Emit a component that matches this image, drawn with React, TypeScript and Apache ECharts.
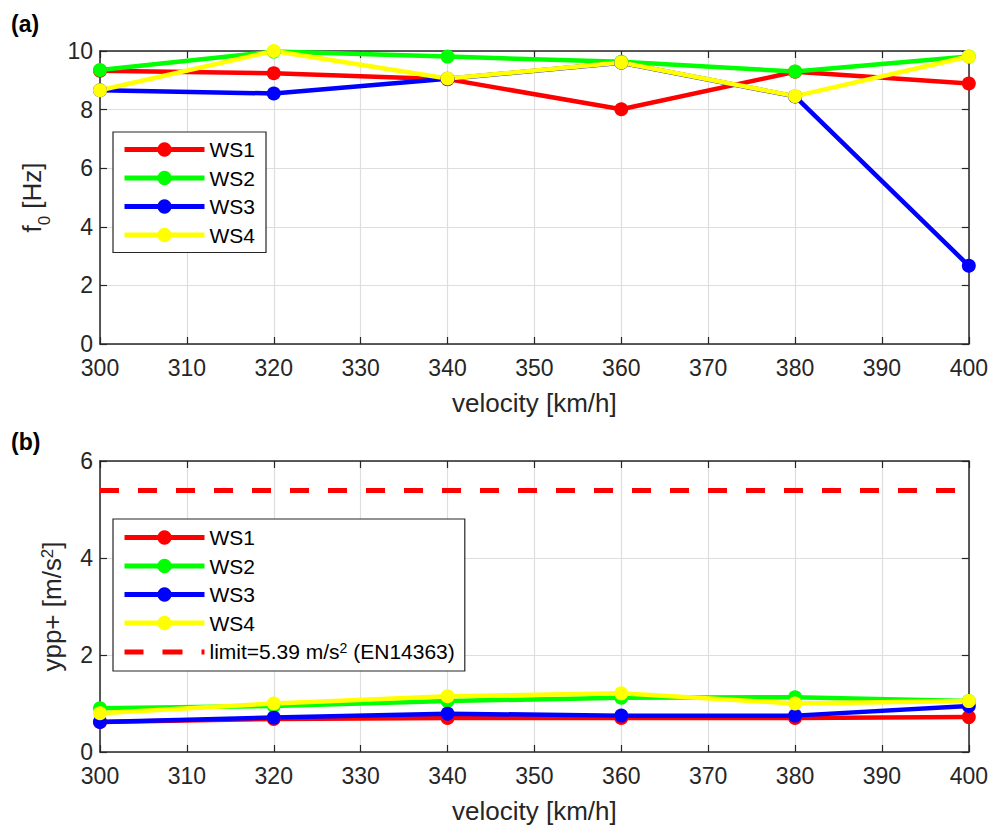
import React, { useEffect, useRef } from "react";
import * as echarts from "echarts";

const velocities = [300, 320, 340, 360, 380, 400];
const seriesNames = ["WS1", "WS2", "WS3", "WS4"];
const seriesColors = ["#ff0000", "#00ff00", "#0000ff", "#ffff00"];

const f0WS1 = [9.33, 9.24, 9.04, 8.01, 9.29, 8.89];
const f0WS2 = [9.35, 9.98, 9.81, 9.63, 9.3, 9.81];
const f0WS3 = [8.66, 8.55, 9.05, 9.6, 8.45, 2.67];
const f0WS4 = [8.66, 10.0, 9.06, 9.61, 8.46, 9.81];

const yppWS1 = [0.62, 0.68, 0.7, 0.7, 0.7, 0.72];
const yppWS2 = [0.9, 0.95, 1.05, 1.12, 1.13, 1.05];
const yppWS3 = [0.62, 0.71, 0.79, 0.75, 0.75, 0.95];
const yppWS4 = [0.8, 1.0, 1.15, 1.21, 1.0, 1.05];

const limitValue = 5.39;
const limitLabel = "limit=5.39 m/s{sup|2} (EN14363)";

const xTicks = { min: 300, max: 400, interval: 10 };
const yTicksA = { min: 0, max: 10, interval: 2 };
const yTicksB = { min: 0, max: 6, interval: 2 };

const FONT = "Liberation Sans, Arial, Helvetica, sans-serif";
const TEXT = "#262626";

const dashIcon = "path://M0,0M80,18M0,7h19v5h-19zM38,7h20v5h-20zM77,7h3v5h-3z";

export default function App() {
  const ref = useRef<HTMLDivElement>(null);
  useEffect(() => {
    if (!ref.current) return;
    const chart = echarts.init(ref.current, null, { renderer: "svg" });

    const grids = [
      { left: 100, right: 16, top: 51, height: 293 },
      { left: 100, right: 16, top: 461, height: 292 },
    ];

    const mkX = (gi: number, top: boolean) => ({
      type: "value",
      gridIndex: gi,
      position: top ? "top" : "bottom",
      min: xTicks.min,
      max: xTicks.max,
      interval: xTicks.interval,
      name: top ? "" : "velocity [km/h]",
      nameLocation: "middle",
      nameGap: 46,
      nameTextStyle: { fontFamily: FONT, fontSize: 26, color: TEXT },
      axisLine: { show: true, onZero: false, lineStyle: { color: TEXT, width: 1.5 } },
      axisTick: { show: true, inside: true, length: 7, lineStyle: { color: TEXT, width: 1.2 } },
      axisLabel: {
        show: !top,
        fontFamily: FONT,
        fontSize: 23,
        color: TEXT,
        margin: 12,
      },
      splitLine: { show: !top, lineStyle: { color: "#dedede", width: 1.2 } },
    });

    const mkY = (gi: number, right: boolean, t: any, name: string, gap: number) => ({
      type: "value",
      gridIndex: gi,
      position: right ? "right" : "left",
      min: t.min,
      max: t.max,
      interval: t.interval,
      name: right ? "" : name,
      nameLocation: "middle",
      nameGap: gap,
      nameRotate: 90,
      nameTextStyle: {
        fontFamily: FONT,
        fontSize: 26,
        color: TEXT,
        rich: {
          sub: { fontFamily: FONT, fontSize: 17, color: TEXT, verticalAlign: "bottom", padding: [0, 0, -8, 0] },
          sup: { fontFamily: FONT, fontSize: 17, color: TEXT, verticalAlign: "top" },
        },
      },
      axisLine: { show: true, onZero: false, lineStyle: { color: TEXT, width: 1.5 } },
      axisTick: { show: true, inside: true, length: 7, lineStyle: { color: TEXT, width: 1.2 } },
      axisLabel: { show: !right, fontFamily: FONT, fontSize: 23, color: TEXT, margin: 7 },
      splitLine: { show: !right, lineStyle: { color: "#dedede", width: 1.2 } },
    });

    const xAxis = [mkX(0, false), mkX(0, true), mkX(1, false), mkX(1, true)];
    const yAxis = [
      mkY(0, false, yTicksA, "f{sub|0} [Hz]", 55),
      mkY(0, true, yTicksA, "", 0),
      mkY(1, false, yTicksB, "ypp+ [m/s{sup|2}]", 35),
      mkY(1, true, yTicksB, "", 0),
    ];

    const dataA = [f0WS1, f0WS2, f0WS3, f0WS4];
    const dataB = [yppWS1, yppWS2, yppWS3, yppWS4];

    const lineSeries = (name: string, color: string, vals: number[], xi: number, yi: number) => ({
      type: "line",
      name,
      xAxisIndex: xi,
      yAxisIndex: yi,
      data: velocities.map((v, i) => [v, vals[i]]),
      symbol: "circle",
      symbolSize: 14,
      lineStyle: { color, width: 4.5 },
      itemStyle: { color },
      emphasis: { disabled: true },
      z: 3,
    });

    const series: any[] = [];
    seriesNames.forEach((n, i) => series.push(lineSeries(n, seriesColors[i], dataA[i], 0, 0)));
    seriesNames.forEach((n, i) => series.push(lineSeries(n + " ", seriesColors[i], dataB[i], 2, 2)));
    series.push({
      type: "line",
      name: "limit",
      xAxisIndex: 2,
      yAxisIndex: 2,
      data: [
        [xTicks.min, limitValue],
        [xTicks.max, limitValue],
      ],
      symbol: "none",
      lineStyle: { color: "#ff0000", width: 5, type: [19, 19] },
      itemStyle: { color: "#ff0000" },
      emphasis: { disabled: true },
    });

    const legendBase = {
      orient: "vertical",
      backgroundColor: "#ffffff",
      borderColor: TEXT,
      borderWidth: 1.2,
      borderRadius: 0,
      itemWidth: 80,
      itemHeight: 18,
      itemGap: 7.5,
      selectedMode: false,
      lineStyle: { width: 5 },
      textStyle: {
        fontFamily: FONT,
        fontSize: 21,
        lineHeight: 21,
        color: "#000",
        rich: {
          sup: { fontFamily: FONT, fontSize: 14, color: "#000", verticalAlign: "top", lineHeight: 14 },
        },
      },
    };

    chart.setOption({
      animation: false,
      grid: grids,
      xAxis,
      yAxis,
      series,
      legend: [
        {
          ...legendBase,
          left: 113,
          top: 132,
          padding: [7, 11, 7, 9],
          data: seriesNames,
          formatter: (n: string) => n,
        },
        {
          ...legendBase,
          left: 113,
          top: 519,
          padding: [8, 10, 9, 9],
          data: [...seriesNames.map((n) => n + " "), { name: "limit", icon: dashIcon }],
          formatter: (n: string) => (n === "limit" ? limitLabel : n.trim()),
        },
      ],
      graphic: [
        { type: "text", left: 11, top: 12, style: { text: "(a)", font: `bold 23px ${FONT}`, fill: "#000" } },
        { type: "text", left: 11, top: 430, style: { text: "(b)", font: `bold 23px ${FONT}`, fill: "#000" } },
      ],
    });
    return () => chart.dispose();
  }, []);
  return <div ref={ref} style={{ position: "fixed", left: 0, top: 0, width: 991, height: 825, background: "#fff" }} />;
}
